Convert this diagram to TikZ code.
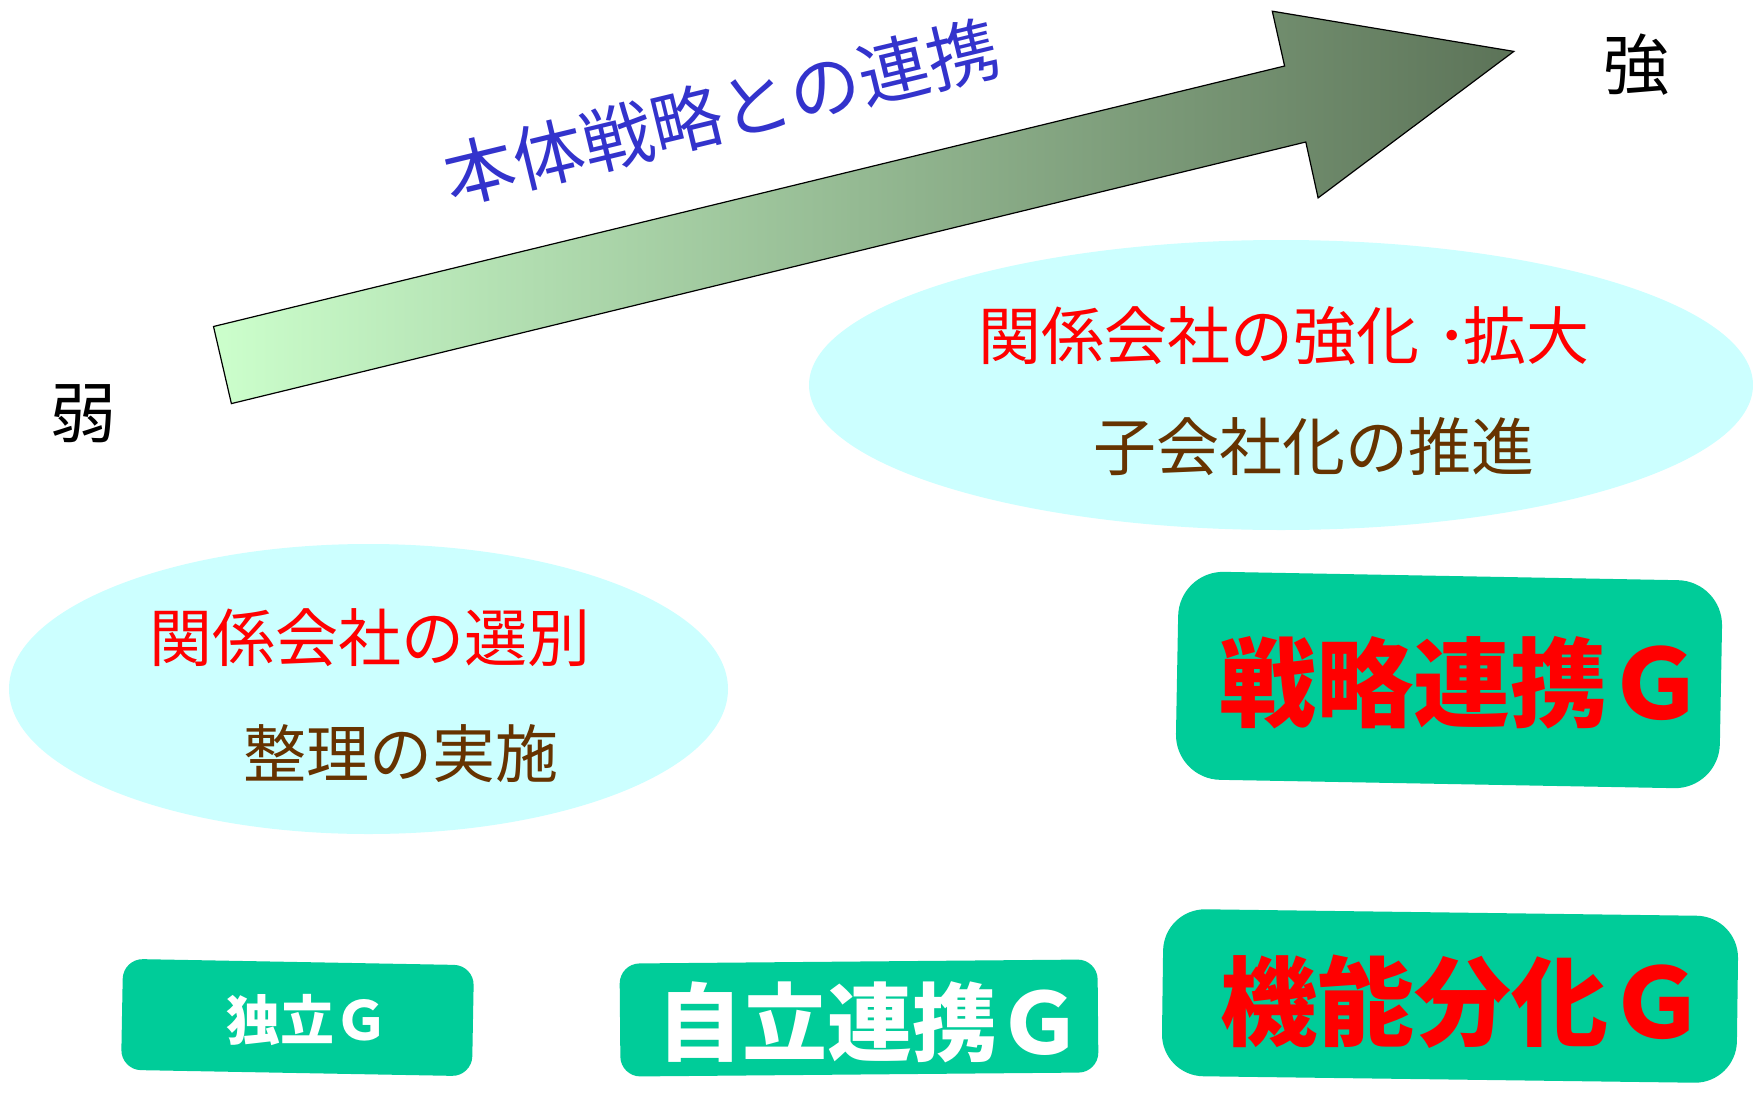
\documentclass[tikz,border=0pt]{standalone}
\usepackage{fontspec}
\setmainfont{Noto Sans CJK JP}
\usetikzlibrary{shapes.geometric}
\definecolor{boxgreen}{RGB}{0,204,153}
\definecolor{ellcyan}{RGB}{204,255,255}
\definecolor{lgreen}{RGB}{204,255,204}
\definecolor{dgreen}{RGB}{92,115,88}
\definecolor{titleblue}{RGB}{51,51,204}
\definecolor{txtbrown}{RGB}{102,51,0}
\definecolor{txtred}{RGB}{255,0,0}
\begin{document}
\begin{tikzpicture}[x=1pt,y=-1pt,
  gbox/.style={fill=boxgreen, inner sep=0pt},
  ellbg/.style={ellipse, fill=ellcyan, inner sep=0pt},
  ltxt/.style={inner sep=0pt, font=\fontsize{63}{63}\selectfont},
  btxt/.style={inner sep=0pt, font=\bfseries\fontsize{97}{97}\selectfont, text=txtred},
  ]
\useasboundingbox (0,0) rectangle (1753,1092);
\fill[white] (0,0) rectangle (1753,1092);
% arrow
\draw[line width=1.2pt, left color=lgreen, right color=dgreen]
  (213.5,326.5) -- (1284.6,66) -- (1272.3,11.2) -- (1513.8,51.4)
  -- (1318.1,197.9) -- (1305.8,142) -- (231.4,403.6) -- cycle;
\node[rotate=13.6, text=titleblue, inner sep=0pt, font=\fontsize{71}{71}\selectfont] (title) at (721,112) {本体戦略との連携};
\node[inner sep=0pt, font=\fontsize{66}{66}\selectfont] (strong) at (1636,65) {強};
\node[inner sep=0pt, font=\fontsize{66}{66}\selectfont] (weak) at (83,414) {弱};
% ellipses
\node[ellbg, minimum width=944, minimum height=290] (e1) at (1281,385) {};
\node[ltxt, text=txtred] (e1a) at (1284,335.5) {関係会社の強化\kern0.27em･\kern-0.06em拡大};
\node[ltxt, text=txtbrown] (e1b) at (1314,447) {子会社化の推進};
\node[ellbg, minimum width=719, minimum height=290] (e2) at (368.5,689) {};
\node[ltxt, text=txtred] (e2a) at (369.5,638) {関係会社の選別};
\node[ltxt, text=txtbrown] (e2b) at (401,753.5) {整理の実施};
% boxes
\node[gbox, rounded corners=45pt, minimum width=544, minimum height=208, rotate=-1.05] (g1) at (1449,680) {};
\node[btxt] (g1t) at (1462,683) {戦略連携Ｇ};
\node[gbox, rounded corners=42pt, minimum width=575, minimum height=167, rotate=-0.75] (g2) at (1450,996) {};
\node[btxt] (g2t) at (1463,1002) {機能分化Ｇ};
\node[gbox, rounded corners=20pt, minimum width=351, minimum height=111, rotate=-1.05] (g3) at (297.5,1017.5) {};
\node[inner sep=0pt, text=white, font=\bfseries\fontsize{54}{54}\selectfont] (g3t) at (307.5,1020) {独立Ｇ};
\node[gbox, rounded corners=20pt, minimum width=478, minimum height=113, rotate=0.5] (g4) at (859,1018) {};
\node[inner sep=0pt, text=white, font=\bfseries\fontsize{85}{85}\selectfont] (g4t) at (870,1022) {自立連携Ｇ};
\end{tikzpicture}
\end{document}
